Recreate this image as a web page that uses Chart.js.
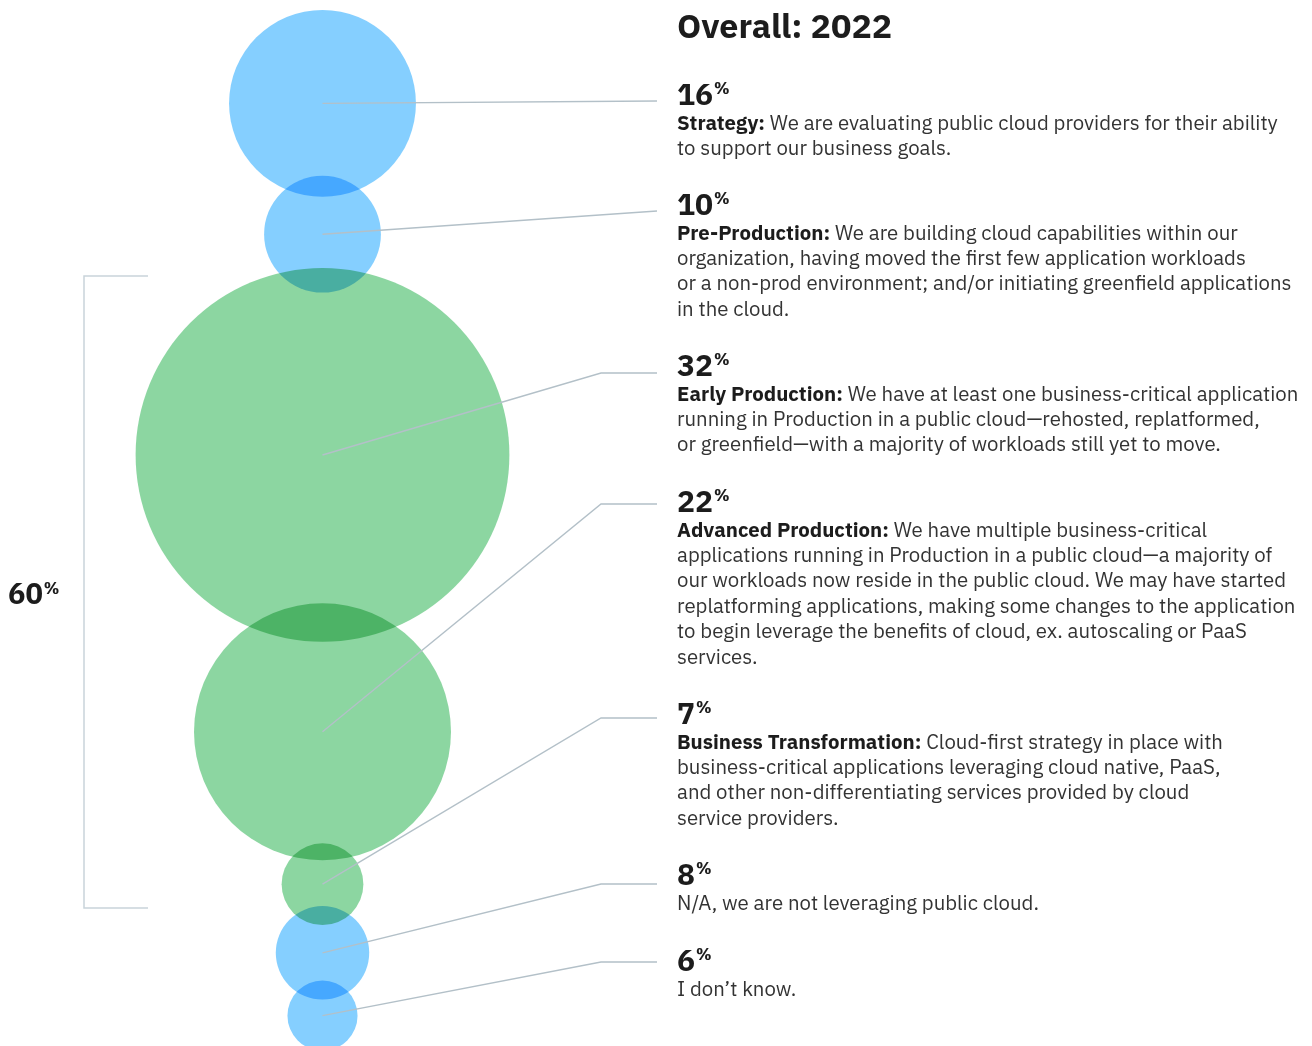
<!DOCTYPE html>
<html><head><meta charset="utf-8">
<script src="https://cdn.jsdelivr.net/npm/chart.js@4/dist/chart.umd.min.js"></script>
<style>html,body{margin:0;padding:0;background:#fff;overflow:hidden}#wrap{width:1312px;height:1046px;position:relative}</style>
</head><body><div id="wrap"><canvas id="c" width="1312" height="1046"></canvas></div>
<script>
// ---- data ----
const title = 'Overall: 2022';
const categories = ['Strategy:', 'Pre-Production:', 'Early Production:', 'Advanced Production:', 'Business Transformation:', '', ''];
const values = [16, 10, 32, 22, 7, 8, 6];
const groups = ['cloud', 'cloud', 'prod', 'prod', 'prod', 'other', 'other'];
const descriptions = [
  [' We are evaluating public cloud providers for their ability', 'to support our business goals.'],
  [' We are building cloud capabilities within our', 'organization, having moved the first few application workloads', 'or a non-prod environment; and/or initiating greenfield applications', 'in the cloud.'],
  [' We have at least one business-critical application', 'running in Production in a public cloud\u2014rehosted, replatformed,', 'or greenfield\u2014with a majority of workloads still yet to move.'],
  [' We have multiple business-critical', 'applications running in Production in a public cloud\u2014a majority of', 'our workloads now reside in the public cloud. We may have started', 'replatforming applications, making some changes to the application', 'to begin leverage the benefits of cloud, ex. autoscaling or PaaS', 'services.'],
  [' Cloud-first strategy in place with', 'business-critical applications leveraging cloud native, PaaS,', 'and other non-differentiating services provided by cloud', 'service providers.'],
  ['N/A, we are not leveraging public cloud.'],
  ['I don\u2019t know.']
];
const bracketLabel = '60';

// ---- layout (units = percentage points on the y scale) ----
const Y_MAX = 179.1;
const TOP_GAP = 1.7;
const OVERLAPS = [3.6, 4.2, 6.6, 2.9, 3.25, 3.25];
const pctBaseline = [104.5, 214.5, 375.5, 511.5, 723.5, 884.5, 970.5];
const leaderY = [101, 211, 373, 504, 718, 884, 962];
const TEXT_X = 677, ELBOW_X = 601, LEADER_END = 657;
const LINE_H = 25.4;
const BODY_SIZE = 20.4;
const BLUE = '#85cfff', GREEN = '#8cd6a1';
const FONT = '"IBM Plex Sans", "Noto Sans", sans-serif';

const centers = [];
values.forEach((v, i) => {
  centers.push(i === 0 ? TOP_GAP + v : centers[i - 1] + values[i - 1] + v - OVERLAPS[i - 1]);
});

function unitPx(chart) {
  const s = chart.scales && chart.scales.y;
  let u = s ? Math.abs(s.getPixelForValue(1) - s.getPixelForValue(0)) : NaN;
  if (!isFinite(u) || u <= 0) {
    const a = chart.chartArea;
    u = (a && a.height ? a.height : chart.height) / Y_MAX;
  }
  return u;
}

const blend = {
  id: 'blend',
  beforeDraw(chart) { const c = chart.ctx; c.save(); c.fillStyle = '#fff'; c.fillRect(0, 0, chart.width, chart.height); c.restore(); },
  beforeDatasetsDraw(chart) { chart.ctx.save(); chart.ctx.globalCompositeOperation = 'multiply'; },
  afterDatasetsDraw(chart) { chart.ctx.restore(); }
};

function drawPct(ctx, num, x, baseline, size, supSize) {
  ctx.font = `700 ${size}px ${FONT}`;
  ctx.fillText(num, x, baseline);
  const w = ctx.measureText(num).width;
  ctx.font = `700 ${supSize}px ${FONT}`;
  ctx.fillText('%', x + w + 1, baseline - size * 0.36);
}

const annotate = {
  id: 'annotate',
  afterDraw(chart) {
    const ctx = chart.ctx;
    const meta = chart.getDatasetMeta(0);
    ctx.save();
    // leader lines
    ctx.strokeStyle = '#b3c0c8';
    ctx.lineWidth = 1.4;
    meta.data.forEach((el, i) => {
      ctx.beginPath();
      ctx.moveTo(el.x, el.y);
      if (i < 2) {
        ctx.lineTo(LEADER_END, leaderY[i]);
      } else {
        ctx.lineTo(ELBOW_X, leaderY[i]);
        ctx.lineTo(LEADER_END, leaderY[i]);
      }
      ctx.stroke();
    });
    // bracket
    ctx.strokeStyle = '#c9d4da';
    ctx.lineWidth = 1.5;
    ctx.beginPath();
    ctx.moveTo(148, 276); ctx.lineTo(84, 276); ctx.lineTo(84, 908); ctx.lineTo(148, 908);
    ctx.stroke();
    ctx.fillStyle = '#1c1c1c';
    ctx.textBaseline = 'alphabetic';
    drawPct(ctx, bracketLabel, 8, 604, 29, 16);
    // title
    ctx.font = `700 34px ${FONT}`;
    ctx.fillText(title, TEXT_X, 38);
    // labels
    values.forEach((v, i) => {
      ctx.fillStyle = '#1c1c1c';
      drawPct(ctx, String(v), TEXT_X, pctBaseline[i], 30, 16);
      let y = pctBaseline[i] + 25;
      descriptions[i].forEach((ln, j) => {
        let x = TEXT_X;
        if (j === 0 && categories[i]) {
          ctx.font = `700 ${BODY_SIZE}px ${FONT}`;
          ctx.fillStyle = '#1c1c1c';
          ctx.fillText(categories[i], x, y);
          x += ctx.measureText(categories[i]).width;
        }
        ctx.font = `400 ${BODY_SIZE}px ${FONT}`;
        ctx.fillStyle = '#333333';
        ctx.fillText(ln, x, y);
        y += LINE_H;
      });
    });
    ctx.restore();
  }
};

new Chart(document.getElementById('c'), {
  type: 'bubble',
  data: {
    datasets: [{
      data: values.map((v, i) => ({ x: 0, y: centers[i], v })),
      backgroundColor: groups.map(g => g === 'prod' ? GREEN : BLUE),
      borderWidth: 0,
      radius: (c) => c.raw ? c.raw.v * unitPx(c.chart) : 0,
      hoverRadius: 0,
      clip: false
    }]
  },
  options: {
    responsive: false,
    animation: false,
    devicePixelRatio: 1,
    events: [],
    layout: { autoPadding: false, padding: { left: 0, right: 1312 - 645, top: 0, bottom: 0 } },
    plugins: { legend: { display: false }, tooltip: { enabled: false } },
    scales: {
      x: { type: 'linear', min: -1, max: 1, display: false },
      y: { type: 'linear', min: 0, max: Y_MAX, reverse: true, display: false }
    }
  },
  plugins: [blend, annotate]
});
</script>
</body></html>
